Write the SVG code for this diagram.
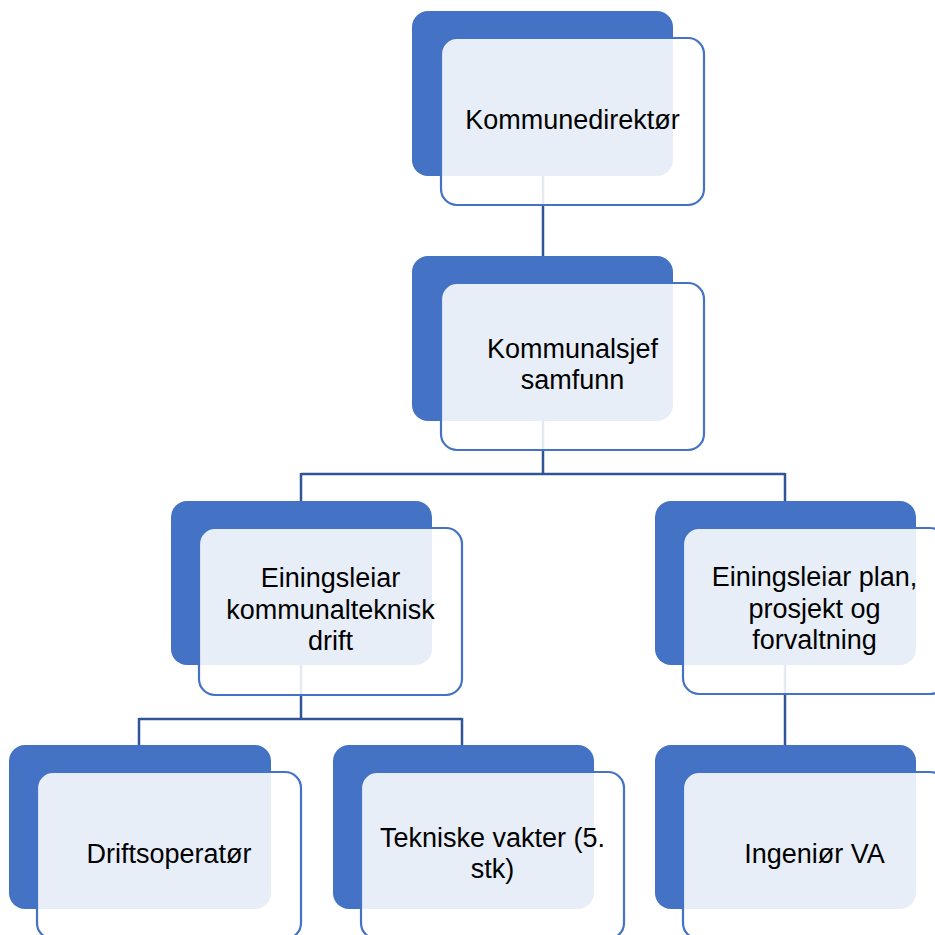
<svg xmlns="http://www.w3.org/2000/svg" width="935" height="935" viewBox="0 0 935 935">
<style>
.back{fill:#4472C4;}
.front{fill:#FFFFFF;fill-opacity:0.88;stroke:#4472C4;stroke-width:2.2;}
.conn{fill:none;stroke:#2F5597;stroke-width:2.5;}
text{font-family:"Liberation Sans",Arial,sans-serif;font-size:27px;fill:#000000;text-anchor:middle;}
</style>
<rect width="935" height="935" fill="#FFFFFF"/>
<g id="connectors">
<path class="conn" d="M543 176 V256"/>
<path class="conn" d="M543 420 V474 M301 474 H785 M301 473 V501 M785 473 V501"/>
<path class="conn" d="M301 664 V719 M139 719 H462 M139 718 V745 M462 718 V745"/>
<path class="conn" d="M785 664 V745"/>
</g>
<g id="node1">
<rect class="back" x="412" y="11" width="261" height="165" rx="16"/>
<rect class="front" x="441" y="38" width="263" height="167" rx="16"/>
<text x="572.5" y="129">Kommunedirektør</text>
</g>
<g id="node2">
<rect class="back" x="412" y="256" width="261" height="165" rx="16"/>
<rect class="front" x="441" y="283" width="263" height="167" rx="16"/>
<text x="572.5" y="358">Kommunalsjef</text>
<text x="572.5" y="389">samfunn</text>
</g>
<g id="node3">
<rect class="back" x="171" y="501" width="261" height="164" rx="16"/>
<rect class="front" x="199" y="528" width="263" height="167" rx="16"/>
<text x="330.5" y="587">Einingsleiar</text>
<text x="330.5" y="619">kommunalteknisk</text>
<text x="330.5" y="650">drift</text>
</g>
<g id="node4">
<rect class="back" x="655" y="501" width="261" height="164" rx="16"/>
<rect class="front" x="683" y="528" width="263" height="166" rx="16"/>
<text x="814.5" y="586">Einingsleiar plan,</text>
<text x="814.5" y="618">prosjekt og</text>
<text x="814.5" y="649">forvaltning</text>
</g>
<g id="node5">
<rect class="back" x="9" y="745" width="262" height="164" rx="16"/>
<rect class="front" x="37" y="772" width="264" height="167" rx="16"/>
<text x="169" y="863">Driftsoperatør</text>
</g>
<g id="node6">
<rect class="back" x="333" y="745" width="261" height="164" rx="16"/>
<rect class="front" x="361" y="772" width="263" height="167" rx="16"/>
<text x="492.5" y="847">Tekniske vakter (5.</text>
<text x="492.5" y="878">stk)</text>
</g>
<g id="node7">
<rect class="back" x="655" y="745" width="261" height="164" rx="16"/>
<rect class="front" x="683" y="772" width="263" height="167" rx="16"/>
<text x="814.5" y="863">Ingeniør VA</text>
</g>
</svg>
